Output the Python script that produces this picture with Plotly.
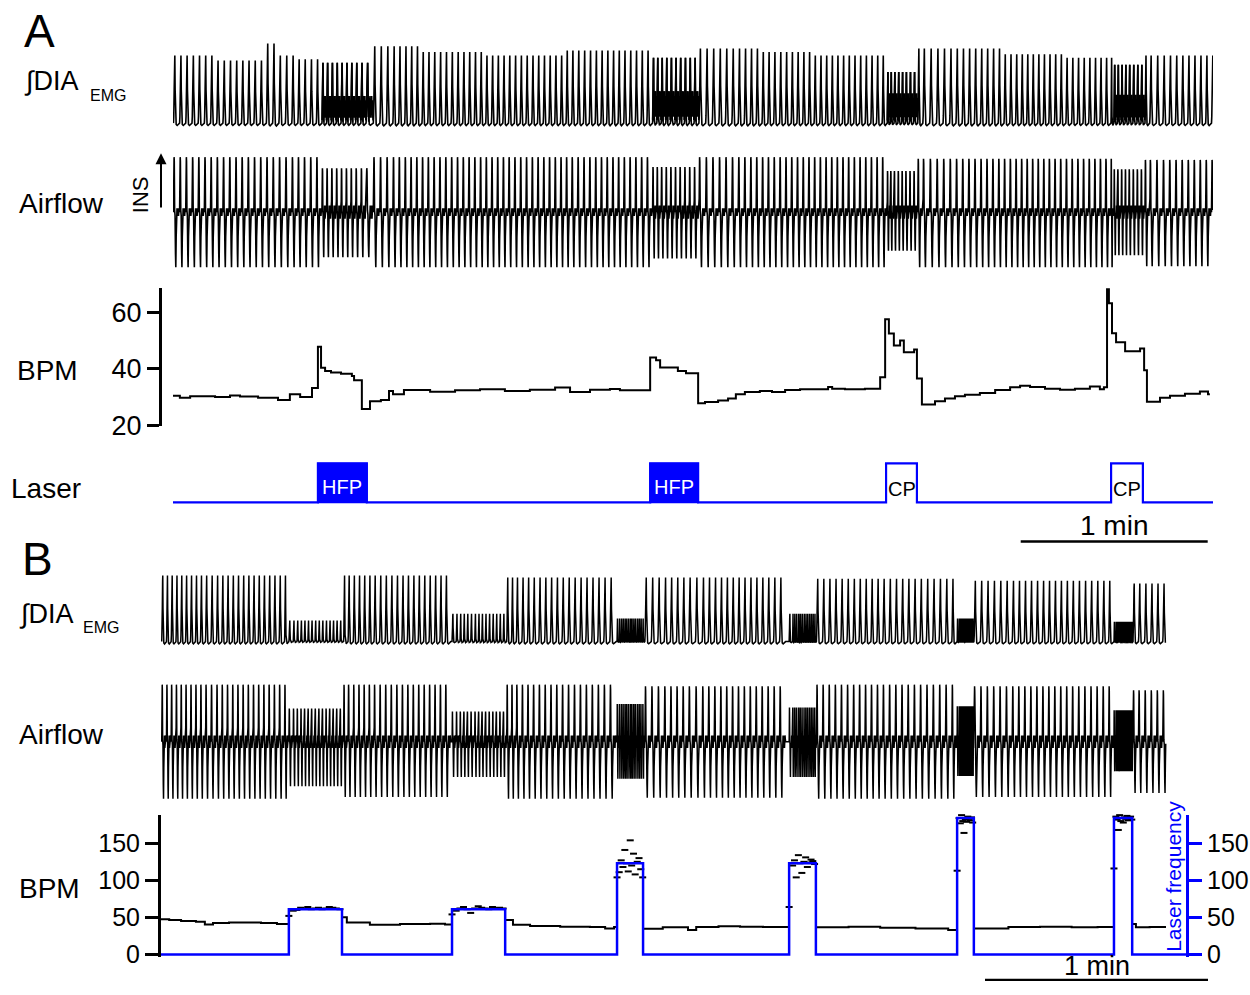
import numpy as np
import plotly.graph_objects as go

W, H = 1250, 995
# the photographed page comes out vertically compressed by ~1.5 %; positions below are
# reference-pixel positions, converted to figure pixels with this factor
VSCALE = 0.985
FONT = "Liberation Sans, Arial, Helvetica, sans-serif"
BLUE = "#0000ff"
BLACK = "#000000"

# ===================== PANEL A data (time in s) =====================
A_T_END = 333.7
bpmA_t = [0.0, 2.2, 5.5, 13.5, 18.3, 21.5, 27.3, 33.7, 37.5, 40.8, 44.6,
          46.5, 47.5, 48.8, 50.7, 53.9, 57.4, 58.1, 60.6, 63.2, 66.7, 69.3, 70.6, 74.1,
          82.5, 90.5, 98.5, 106.5, 114.5, 122.6, 127.4, 133.8, 140.2, 143.4,
          153.1, 155.0, 156.3, 162.0, 164.6, 168.5, 170.7, 174.9, 178.1, 180.6, 183.5,
          188.3, 192.2, 196.4, 201.2, 210.2, 211.5, 215.6, 222.0, 226.9,
          228.5, 229.7, 231.3, 233.3, 234.5, 237.8, 238.7, 240.3, 244.5, 247.7, 250.9,
          254.1, 258.9, 263.8, 268.6, 271.8, 275.0, 279.8, 284.6, 289.4, 294.2, 297.4,
          298.7, 299.7, 300.3, 301.3, 302.6, 305.5, 310.3, 311.6, 312.5, 316.7, 319.9,
          324.7, 329.5, 332.1]
bpmA_v = [30.5, 29.8, 30.3, 30.0, 30.6, 30.2, 29.8, 29.0, 31.0, 30.0, 33.2,
          47.8, 40.4, 39.2, 38.7, 38.3, 37.5, 36.0, 25.8, 28.5, 29.0, 32.2, 31.0, 32.5,
          31.9, 32.4, 32.8, 32.2, 32.6, 33.4, 31.8, 32.6, 32.9, 32.4,
          44.0, 43.0, 40.5, 39.2, 38.4, 27.8, 28.3, 28.8, 29.5, 31.0, 31.8,
          32.2, 31.8, 32.5, 32.8, 33.6, 33.0, 32.8, 33.0, 37.0,
          57.5, 52.5, 48.3, 50.0, 45.9, 46.8, 36.6, 27.4, 28.5, 29.5, 30.3,
          30.8, 31.5, 32.5, 33.5, 34.0, 33.6, 33.0, 32.6, 33.0, 33.8, 32.8,
          33.5, 69.0, 63.2, 52.6, 49.4, 46.2, 47.2, 39.5, 28.4, 29.8, 30.5,
          31.2, 32.0, 31.0]
bpmA_ticks = [20, 40, 60]

laserA_on = [46.5, 153.1, 228.8, 301.0]
laserA_off = [62.2, 168.5, 238.7, 311.2]
laserA_kind = ["HFP", "HFP", "CP", "CP"]
laserA_act = [0.38, 0.45, 0.42, 0.40]      # height of the dense EMG activity during each light period

emgA_amp_t = [0.0, 14.0, 28.0, 33.0, 40.0, 46.5, 62.2, 79.0, 100.0, 125.0, 153.1, 168.5,
              188.0, 205.0, 228.8, 238.7, 265.0, 285.0, 301.0, 311.2]
emgA_amp_v = [0.95, 0.88, 1.12, 0.95, 0.90, 0.85, 1.08, 1.00, 0.95, 1.02, 0.92, 1.05,
              1.00, 0.95, 0.72, 1.05, 0.97, 0.92, 0.82, 0.95]

airA_amp_t = [0.0, 46.5, 62.2, 153.1, 168.5, 228.8, 238.7, 301.0, 311.2]
airA_up_v = [1.0, 0.80, 1.0, 0.82, 1.0, 0.75, 0.97, 0.78, 0.95]
airA_dn_v = [1.0, 0.82, 1.0, 0.84, 1.0, 0.70, 1.0, 0.78, 0.98]

scaleA_t = [272.0, 332.0]   # 1 min

# ===================== PANEL B data (time in s) =====================
B_T_END = 270.4
B_LASER_END = 276.1
B_X_END = 281.7
laserB_on = [34.4, 78.3, 122.7, 169.0, 214.2, 256.4]
laserB_off = [48.7, 92.6, 129.7, 176.2, 218.7, 261.3]
laserB_hz = [61, 61, 123, 123, 184, 184]
bpmB_ticks = [0, 50, 100, 150]

bpmB_t = [0.0, 2.2, 5.4, 9.4, 11.8, 14.0, 18.3, 26.9, 31.2,
          48.7, 50.0, 56.2, 64.3, 72.4, 76.4,
          92.6, 94.7, 99.3, 107.4, 115.4, 119.5, 121.9,
          129.7, 135.0, 141.8, 144.0, 150.0, 155.8, 162.0,
          176.2, 185.0, 193.5, 203.0, 211.8,
          218.7, 228.0, 236.5, 245.0, 252.0,
          261.3, 262.3, 266.0]
bpmB_v = [47.5, 46.5, 45.0, 44.0, 40.5, 42.5, 43.0, 42.5, 41.0,
          50.0, 43.0, 40.0, 41.0, 41.5, 40.5,
          46.5, 40.0, 38.5, 37.5, 37.0, 35.0, 37.0,
          34.5, 36.5, 33.0, 37.0, 38.0, 37.5, 37.0,
          36.5, 37.5, 36.0, 35.0, 33.0,
          35.0, 37.0, 37.5, 36.5, 37.0,
          41.0, 36.5, 37.0]

pulse1_bpm = [52, 59, 60, 63, 62, 64, 61, 62, 63, 61, 62, 64, 63, 62, 61]
pulse2_bpm = [54, 59, 62, 64, 61, 56, 62, 65, 63, 62, 61, 64, 62, 63, 62]
pulse3_bpm = [104, 111, 127, 118, 141, 123, 112, 154, 120, 136, 108, 125, 130, 115]
pulse4_bpm = [64, 120, 127, 104, 134, 123, 110, 125, 131, 118, 124, 128, 126, 122, 125]
pulse5_bpm = [113, 184, 177, 188, 180, 164, 182, 179, 186, 183, 181, 185, 178, 184]
pulse6_bpm = [116, 186, 182, 168, 188, 180, 184, 178, 185, 183, 187, 181, 184, 186, 182]

emgB_base_amp = [1.0, 1.0, 0.97, 0.97, 0.95, 0.92, 0.88]
emgB_pulse_amp = [0.32, 0.42, 0.35, 0.42, 0.35, 0.30]
airB_base_up = [1.0, 1.0, 1.0, 0.97, 1.0, 0.97, 0.90]
airB_base_dn = [1.0, 0.97, 1.0, 0.98, 1.0, 0.97, 0.90]
airB_pulse_up = [0.58, 0.53, 0.66, 0.60, 0.62, 0.55]
airB_pulse_dn = [0.78, 0.62, 0.65, 0.62, 0.60, 0.52]

scaleB_t = [221.7, 281.7]   # 1 min

# ===================== breath waveform templates (shape only) =====================
EMG_PH = np.array([0.00, 0.05, 0.12, 0.18, 0.22, 0.27, 0.34, 0.44, 0.60, 0.80, 1.00])
EMG_V = np.array([0.00, 0.10, 0.50, 0.92, 1.00, 0.50, 0.10, -0.02, -0.035, -0.015, 0.00])
PEAK_PH = [0.02, 0.13, 0.22, 0.32]
PEAK_V = [0.05, 0.55, 1.00, 0.10]
ACT_PH = np.array([0.36, 0.42, 0.48, 0.54, 0.60, 0.66, 0.72, 0.78, 0.84, 0.90, 0.96])
ACT_V = np.array([0.05, 0.95, 0.25, 1.00, 0.20, 0.90, 0.30, 1.00, 0.20, 0.85, 0.10])
AIR_PH = np.array([0.00, 0.04, 0.10, 0.13, 0.19, 0.26, 0.33, 0.38, 0.44, 0.50, 0.58, 0.66, 0.74, 0.82, 0.90, 1.00])
AIR_UP = np.array([0, 0.25, 1.0, 0.92, 0.04, 0, 0, 0, 0, 0, 0, 0, 0, 0, 0, 0])
AIR_DN = np.array([0, 0, 0, 0, 0, -0.06, -0.75, -1.0, -0.45, -0.04, 0, 0, 0, 0, 0, 0])
AIR_BAND = np.array([0, 0, 0, 0, 0, 0, 0, 0, 0, 0, 1, -1, 1, -1, 1, 0])


def step(ts, vs, t):
    i = int(np.searchsorted(np.asarray(ts, dtype=float), t, side="right")) - 1
    return float(vs[max(i, 0)])


def window(t, ons, offs):
    for i, (a, b) in enumerate(zip(ons, offs)):
        if a <= t < b:
            return i
    return -1


def join(xl, yl, tmax):
    x = np.concatenate(xl)
    y = np.concatenate(yl)
    m = x <= tmax
    return [float(v) for v in x[m]], [float(v) for v in y[m]]


# ---------- Panel A breaths ----------
breathsA = []
t = 0.15
while t < A_T_END:
    d = 60.0 / step(bpmA_t, bpmA_v, t)
    breathsA.append((t, d))
    t += d

exA, eyA, axA, ayA = [], [], [], []
actx, acty = [], []
peak_paths = []
for t0, d in breathsA:
    w = window(t0, laserA_on, laserA_off)
    amp = step(emgA_amp_t, emgA_amp_v, t0)
    exA.append(t0 + EMG_PH * d)
    eyA.append(amp * EMG_V)
    if w >= 0:
        actx += [float(v) for v in (t0 + ACT_PH * d)] + [None]
        acty += [float(v) for v in (laserA_act[w] * ACT_V)] + [None]
        pts = [(t0 + p * d, amp * v) for p, v in zip(PEAK_PH, PEAK_V)]
        peak_paths.append("M " + " L ".join(f"{px:.4f},{py:.4f}" for px, py in pts))
    up = step(airA_amp_t, airA_up_v, t0)
    dn = step(airA_amp_t, airA_dn_v, t0)
    band = 0.12 if w >= 0 else 0.07
    axA.append(t0 + AIR_PH * d)
    ayA.append(up * AIR_UP + dn * AIR_DN + band * AIR_BAND)

exA, eyA = join(exA, eyA, A_T_END)
axA, ayA = join(axA, ayA, A_T_END)

# ---------- Panel B breaths ----------
pulsesB = [pulse1_bpm, pulse2_bpm, pulse3_bpm, pulse4_bpm, pulse5_bpm, pulse6_bpm]
breathsB = []
kidx = [0] * len(pulsesB)
t = 0.2
while t < B_T_END:
    p = window(t, laserB_on, laserB_off)
    if p >= 0:
        vals = pulsesB[p]
        v = vals[kidx[p] % len(vals)]
        kidx[p] += 1
        d = 60.0 / v
    else:
        v = step(bpmB_t, bpmB_v, t)
        d = 60.0 / v
        nxt = [a for a in laserB_on if a > t]
        if nxt and t + d > nxt[0]:
            rem = nxt[0] - t
            if rem >= 0.6 * d:
                d = rem
            else:
                t = nxt[0]
                continue
    breathsB.append((t, d, p, v))
    t += d

exB, eyB, axB, ayB = [], [], [], []
dash_t, dash_v = [], []
for t0, d, p, v in breathsB:
    if p >= 0:
        ea = emgB_pulse_amp[p]
        up, dn = airB_pulse_up[p], airB_pulse_dn[p]
        dash_t.append(t0)
        dash_v.append(v)
    else:
        seg = sum(1 for b in laserB_off if b <= t0)
        ea = emgB_base_amp[seg]
        up, dn = airB_base_up[seg], airB_base_dn[seg]
    exB.append(t0 + EMG_PH * d)
    eyB.append(ea * EMG_V)
    axB.append(t0 + AIR_PH * d)
    ayB.append(up * AIR_UP + dn * AIR_DN + 0.11 * AIR_BAND)

exB, eyB = join(exB, eyB, B_T_END)
axB, ayB = join(axB, ayB, B_T_END)

# baseline BPM (B) line segments between pulses
seg_starts = [0.0] + laserB_off
seg_ends = laserB_on + [B_T_END]
bxB, byB = [], []
for s0, s1 in zip(seg_starts, seg_ends):
    idx = [i for i, tt in enumerate(bpmB_t) if s0 <= tt < s1]
    if not idx:
        continue
    bxB += [bpmB_t[i] for i in idx] + [s1, None]
    byB += [bpmB_v[i] for i in idx] + [bpmB_v[idx[-1]], None]

# laser step traces
lxA, lyA = [0.0], [0]
for a, b in zip(laserA_on, laserA_off):
    lxA += [a, b]
    lyA += [1, 0]
lxA.append(A_T_END)
lyA.append(0)

lxB, lyB = [0.0], [0]
for a, b, hz in zip(laserB_on, laserB_off, laserB_hz):
    lxB += [a, b]
    lyB += [hz, 0]
lxB.append(B_LASER_END)
lyB.append(0)


# ===================== axes helpers =====================
def Q(py):
    """reference pixel row -> figure pixel row"""
    return py / VSCALE


def ymap_q(q_top, q_bot, v1, q1, v2, q2):
    s = (v2 - v1) / (q2 - q1)
    return dict(domain=[max(0.0, 1 - q_bot / H), min(1.0, 1 - q_top / H)],
                range=[v1 + (q_bot - q1) * s, v1 + (q_top - q1) * s])


def ymap(p_top, p_bot, v1, p1, v2, p2):
    return ymap_q(Q(p_top), Q(p_bot), v1, Q(p1), v2, Q(p2))


hidden = dict(visible=False, showgrid=False, zeroline=False, fixedrange=True)

fig = go.Figure()

# ----- panel A traces -----
fig.add_trace(go.Scatter(x=exA, y=eyA, mode="lines", line=dict(color=BLACK, width=1.6),
                         xaxis="x", yaxis="y", hoverinfo="skip"))
fig.add_trace(go.Scatter(x=actx, y=acty, mode="lines", line=dict(color=BLACK, width=1.6),
                         connectgaps=False, xaxis="x", yaxis="y", hoverinfo="skip"))
fig.add_trace(go.Scatter(x=axA, y=ayA, mode="lines", line=dict(color=BLACK, width=1.6),
                         xaxis="x", yaxis="y2", hoverinfo="skip"))
fig.add_trace(go.Scatter(x=bpmA_t + [A_T_END - 1.0], y=bpmA_v + [bpmA_v[-1]], mode="lines",
                         line=dict(color=BLACK, width=2, shape="hv"),
                         xaxis="x", yaxis="y3", hoverinfo="skip"))
fig.add_trace(go.Scatter(x=lxA, y=lyA, mode="lines", line=dict(color=BLUE, width=2.2, shape="hv"),
                         xaxis="x", yaxis="y4", hoverinfo="skip"))
fig.add_trace(go.Scatter(x=scaleA_t, y=[0, 0], mode="lines", line=dict(color=BLACK, width=2.5),
                         xaxis="x", yaxis="y5", hoverinfo="skip"))

# ----- panel B traces -----
fig.add_trace(go.Scatter(x=exB, y=eyB, mode="lines", line=dict(color=BLACK, width=1.5),
                         xaxis="x2", yaxis="y6", hoverinfo="skip"))
fig.add_trace(go.Scatter(x=axB, y=ayB, mode="lines", line=dict(color=BLACK, width=1.5),
                         xaxis="x2", yaxis="y7", hoverinfo="skip"))
fig.add_trace(go.Scatter(x=lxB, y=lyB, mode="lines", line=dict(color=BLUE, width=2.5, shape="hv"),
                         xaxis="x2", yaxis="y9", hoverinfo="skip"))
fig.add_trace(go.Scatter(x=bxB, y=byB, mode="lines", line=dict(color=BLACK, width=2, shape="hv"),
                         connectgaps=False, xaxis="x2", yaxis="y8", hoverinfo="skip"))
fig.add_trace(go.Scatter(x=dash_t, y=dash_v, mode="markers", cliponaxis=False,
                         marker=dict(symbol="line-ew", size=5, line=dict(color=BLACK, width=2)),
                         xaxis="x2", yaxis="y8", hoverinfo="skip"))
fig.add_trace(go.Scatter(x=scaleB_t, y=[0, 0], mode="lines", line=dict(color=BLACK, width=2.5),
                         xaxis="x2", yaxis="y10", hoverinfo="skip"))

# ----- shapes: EMG peaks during light periods, HFP blocks -----
shapes = []
for pth in peak_paths:
    shapes.append(dict(type="path", path=pth, xref="x", yref="y", layer="above",
                       line=dict(color=BLACK, width=1.7)))
for a, b, k in zip(laserA_on, laserA_off, laserA_kind):
    if k == "HFP":
        shapes.append(dict(type="rect", x0=a, x1=b, y0=0, y1=1, xref="x", yref="y4",
                           layer="above", fillcolor=BLUE, line=dict(color=BLUE, width=1.5)))

# ===================== layout =====================
bpm_axis_common = dict(showline=True, linewidth=3, ticks="outside", ticklen=12, tickwidth=3,
                       showgrid=False, zeroline=False, fixedrange=True, anchor="free")
bmapB = ymap(814, 956, 0, 953.5, 150, 842.5)

layout = dict(
    width=W, height=H, autosize=False,
    margin=dict(l=0, r=0, t=0, b=0),
    paper_bgcolor="white", plot_bgcolor="rgba(0,0,0,0)",
    showlegend=False,
    shapes=shapes,
    xaxis=dict(domain=[173 / W, 1213 / W], range=[0, A_T_END], anchor="y", **hidden),
    xaxis2=dict(domain=[161 / W, 1208 / W], range=[0, B_X_END], anchor="y6", **hidden),
    yaxis=dict(anchor="x", **ymap(28, 132, 0, 123, 1, 52), **hidden),
    yaxis2=dict(anchor="x", **ymap(150, 275, 0, 212, 1, 157), **hidden),
    yaxis3=dict(position=160 / W, linecolor=BLACK, tickcolor=BLACK, tickvals=bpmA_ticks,
                tickfont=dict(family=FONT, size=27, color=BLACK),
                **ymap(288, 426, 20, 425, 60, 312), **bpm_axis_common),
    yaxis4=dict(anchor="x", **ymap(455, 512, 0, 502, 1, 463), **hidden),
    yaxis5=dict(anchor="x", **ymap(535, 547, 0, 541, 1, 540), **hidden),
    yaxis6=dict(anchor="x2", **ymap(560, 650, 0, 641, 1, 575), **hidden),
    yaxis7=dict(anchor="x2", **ymap(675, 805, 0, 741, 1, 684), **hidden),
    yaxis8=dict(position=159 / W, linecolor=BLACK, tickcolor=BLACK, tickvals=bpmB_ticks,
                tickfont=dict(family=FONT, size=25, color=BLACK),
                **bmapB, **{**bpm_axis_common, "ticklen": 13}),
    yaxis9=dict(position=1187 / W, side="right", overlaying="y8", linecolor=BLUE, tickcolor=BLUE,
                tickvals=bpmB_ticks, tickfont=dict(family=FONT, size=25, color=BLACK),
                range=bmapB["range"], **{**bpm_axis_common, "ticklen": 13}),
    # scale-bar row at the very bottom of the figure
    yaxis10=dict(anchor="x2", **ymap_q(983, 995, 0, 994, 1, 993), **hidden),
)
fig.update_layout(**layout)


def ann(text, x, y, size=28, color=BLACK, xanchor="left", angle=0, xref="paper", q=None):
    yq = Q(y) if q is None else q
    return dict(text=text, x=(x / W if xref == "paper" else x), y=1 - yq / H,
                xref=xref, yref="paper", showarrow=False, xanchor=xanchor, yanchor="middle",
                textangle=angle, font=dict(family=FONT, size=size, color=color))


annotations = [
    ann("A", 22, 31, size=46),
    ann("∫DIA", 22, 81, size=27),
    ann("EMG", 88, 95, size=16),
    ann("Airflow", 17, 203, size=28),
    ann("INS", 140, 195, size=22, xanchor="center", angle=-90),
    ann("BPM", 15, 370, size=28),
    ann("Laser", 9, 488, size=28),
    ann("1 min", (scaleA_t[0] + scaleA_t[1]) / 2, 525, size=28, xanchor="center", xref="x"),
    ann("B", 20, 558, size=46),
    ann("∫DIA", 17, 613, size=27),
    ann("EMG", 81, 627, size=16),
    ann("Airflow", 17, 734, size=28),
    ann("BPM", 17, 888, size=28),
    ann("Laser frequency", 1174, 876, size=21, color=BLUE, xanchor="center", angle=-90),
    ann("1 min", (scaleB_t[0] + scaleB_t[1]) / 2, 0, size=27, xanchor="center", xref="x2", q=980),
]
for a, b, k in zip(laserA_on, laserA_off, laserA_kind):
    col = "white" if k == "HFP" else BLACK
    yy = 487 if k == "HFP" else 489
    annotations.append(ann(k, (a + b) / 2, yy, size=20, color=col, xanchor="center", xref="x"))

# INS arrow
annotations.append(dict(text="", x=161 / W, y=1 - Q(153) / H, xref="paper", yref="paper",
                        showarrow=True, ax=0, ay=Q(208) - Q(153), axref="pixel", ayref="pixel",
                        arrowhead=2, arrowsize=1.1, arrowwidth=2, arrowcolor=BLACK))

fig.update_layout(annotations=annotations)
fig.write_html("out.html")
